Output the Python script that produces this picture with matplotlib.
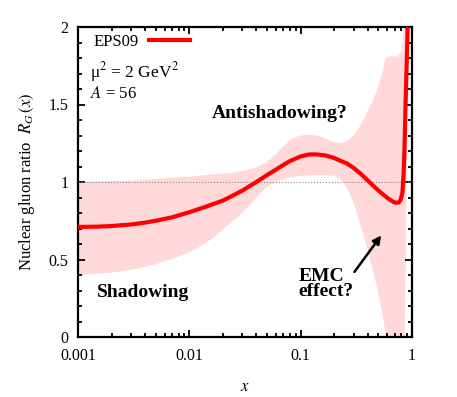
import numpy as np
import matplotlib
matplotlib.use('Agg')
import matplotlib.pyplot as plt
from matplotlib.ticker import MultipleLocator, LogLocator, FixedLocator, FixedFormatter, NullFormatter

plt.rcParams['font.family'] = ['Liberation Serif', 'DejaVu Serif']
plt.rcParams['mathtext.fontset'] = 'stix'

# central EPS09 gluon ratio
x_c = [0.001, 0.0015, 0.002, 0.003, 0.004, 0.005, 0.007, 0.01, 0.014, 0.02, 0.025,
       0.03, 0.04, 0.05, 0.06, 0.07, 0.08, 0.1, 0.12, 0.14, 0.17, 0.2, 0.23, 0.26,
       0.3, 0.35, 0.4, 0.45, 0.5, 0.56, 0.62, 0.68, 0.72, 0.76, 0.79, 0.82, 0.84,
       0.855, 0.875, 0.895, 0.915, 0.93]
r_c = [0.71, 0.712, 0.716, 0.726, 0.738, 0.75, 0.772, 0.805, 0.84, 0.88, 0.915,
       0.945, 1.0, 1.045, 1.08, 1.11, 1.135, 1.165, 1.178, 1.178, 1.17, 1.155, 1.135, 1.12,
       1.09, 1.05, 1.01, 0.975, 0.945, 0.915, 0.89, 0.872, 0.866, 0.868, 0.885, 0.93, 1.05,
       1.2, 1.5, 1.75, 2.02, 2.2]

# upper edge of error band
x_up = [0.001, 0.003, 0.006, 0.01, 0.017, 0.025, 0.034, 0.042, 0.05, 0.06, 0.07,
        0.08, 0.095, 0.11, 0.14, 0.17, 0.2, 0.23, 0.27, 0.3, 0.34, 0.39, 0.44,
        0.49, 0.54, 0.57, 0.6, 0.74, 0.8, 0.83, 0.85, 0.93]
r_up = [1.0, 1.01, 1.025, 1.035, 1.05, 1.06, 1.08, 1.10, 1.13, 1.18, 1.23,
        1.27, 1.295, 1.305, 1.30, 1.28, 1.255, 1.25, 1.27, 1.30, 1.36, 1.44, 1.52,
        1.60, 1.70, 1.78, 1.81, 1.81, 1.84, 1.92, 2.05, 2.1]

# lower edge of error band
x_lo = [0.001, 0.002, 0.0034, 0.005, 0.0075, 0.0095, 0.013, 0.0171, 0.022, 0.0287,
        0.034, 0.04, 0.048, 0.058, 0.068, 0.08, 0.1, 0.15, 0.2, 0.225, 0.245, 0.27,
        0.3, 0.33, 0.37, 0.41, 0.46, 0.51, 0.56, 0.6, 0.8, 0.86, 0.875, 0.89, 0.905, 0.93]
r_lo = [0.40, 0.415, 0.44, 0.47, 0.51, 0.54, 0.59, 0.65, 0.72, 0.79,
        0.84, 0.90, 0.96, 0.995, 1.015, 1.03, 1.04, 1.045, 1.04, 1.02, 0.99, 0.94,
        0.86, 0.77, 0.65, 0.53, 0.39, 0.25, 0.09, -0.05, -0.1, 0.0, 0.4, 0.9, 1.5, 2.1]

x_ticks = [0.001, 0.01, 0.1, 1]
x_labels = ['0.001', '0.01', '0.1', '1']
y_ticks = [0, 0.5, 1, 1.5, 2]
y_labels = ['0', '0.5', '1', '1.5', '2']

fig = plt.figure(figsize=(4.57, 3.97), dpi=100)
ax = fig.add_axes([78/457, 1-337/397, 334/457, 310/397])

band_x = x_up + x_lo[::-1]
band_y = r_up + r_lo[::-1]
ax.fill(band_x, band_y, color='#ffd9d9', lw=0, zorder=1)
ax.axhline(1.0, color='#888888', lw=0.8, ls=':', zorder=2)
ax.plot(x_c, r_c, color='red', lw=3, label='EPS09', zorder=3, solid_capstyle='butt')

ax.set_xscale('log')
ax.set_xlim(0.001, 1)
ax.set_ylim(0, 2)
ax.xaxis.set_major_locator(FixedLocator(x_ticks))
ax.xaxis.set_major_formatter(FixedFormatter(x_labels))
ax.xaxis.set_minor_locator(LogLocator(base=10, subs=np.arange(2, 10)))
ax.xaxis.set_minor_formatter(NullFormatter())
ax.yaxis.set_major_locator(FixedLocator(y_ticks))
ax.yaxis.set_major_formatter(FixedFormatter(y_labels))
ax.yaxis.set_minor_locator(MultipleLocator(0.1))
ax.tick_params(which='both', direction='in', top=True, right=True, width=1.3, labelsize=11.5)
ax.tick_params(axis='x', pad=8)
ax.tick_params(axis='y', pad=7)
ax.tick_params(which='major', length=5)
ax.tick_params(which='minor', length=3)
for s in ax.spines.values():
    s.set_linewidth(1.6)

ax.set_xlabel('$x$', fontsize=12, labelpad=11)
ax.set_ylabel('Nuclear gluon ratio  $R_G\\,(x)$', fontsize=12, labelpad=8)

ax.legend(loc='upper left', bbox_to_anchor=(0.045, 0.978), frameon=False, markerfirst=False,
          handlelength=2.7, handletextpad=0.55, fontsize=12, borderpad=0, borderaxespad=0)
ax.text(0.00128, 1.71, '$\\mathregular{\\mu}^2$ = 2 GeV$^2$', fontsize=12.5, va='center', ha='left')
ax.text(0.00128, 1.57, '$A$ = 56', fontsize=12, va='center', ha='left')

ax.text(0.0648, 1.445, 'Antishadowing?', fontsize=14, fontweight='bold', ha='center', va='center')
ax.text(0.00385, 0.29, 'Shadowing', fontsize=14, fontweight='bold', ha='center', va='center')
ax.text(0.096, 0.342, 'EMC\neffect?', fontsize=14, fontweight='bold', ha='left', va='center',
        linespacing=0.8)
ax.annotate('', xy=(0.548, 0.67), xytext=(0.294, 0.406),
            arrowprops=dict(arrowstyle='-|>', color='black', lw=1.8, mutation_scale=12))

fig.savefig('out.png', dpi=100)
